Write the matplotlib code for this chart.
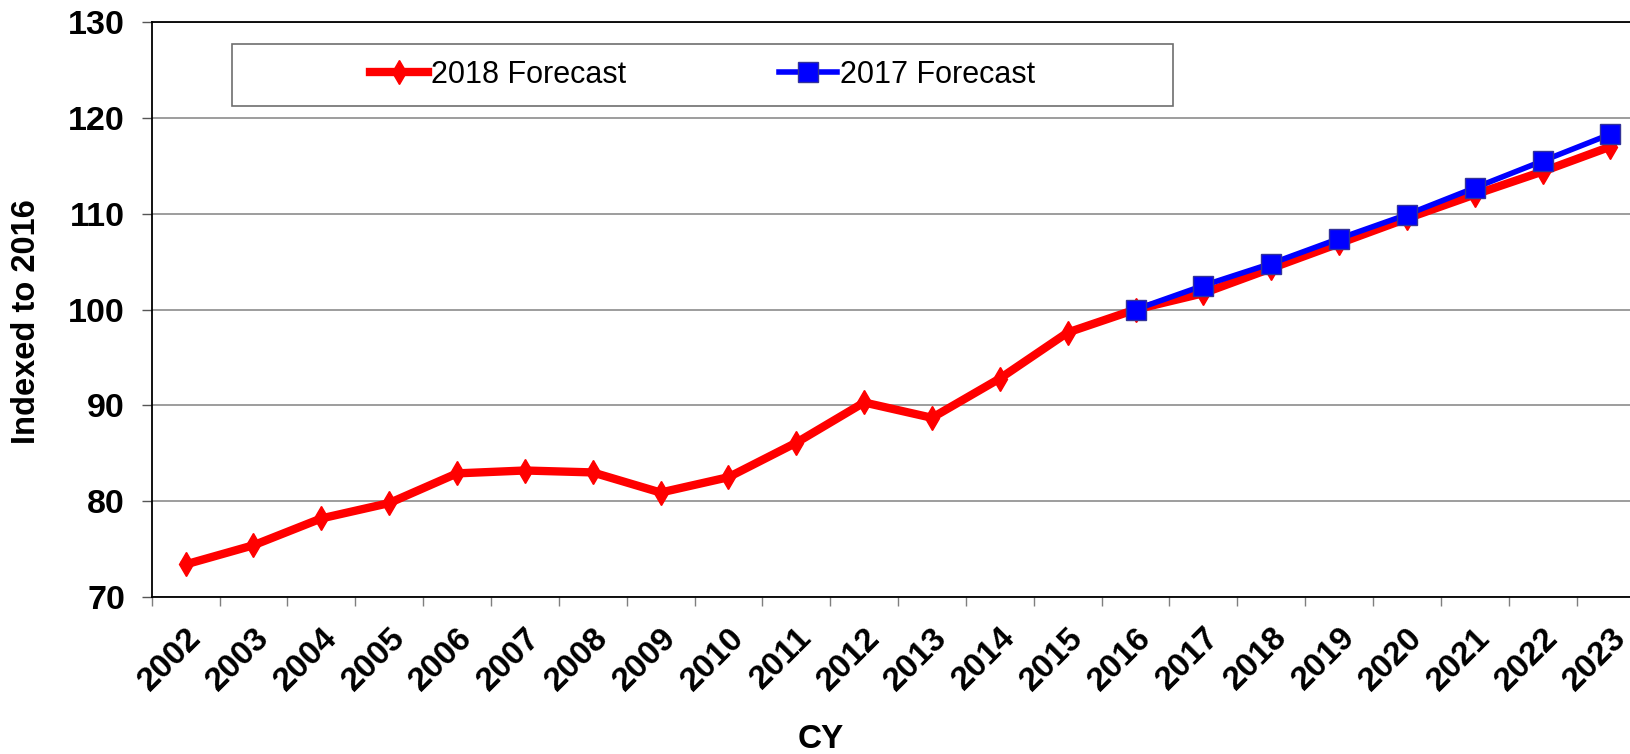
import matplotlib
matplotlib.use("Agg")
import matplotlib.pyplot as plt
from matplotlib.patches import Rectangle
import numpy as np

plt.rcParams['font.family'] = ['Liberation Sans', 'DejaVu Sans']

years = [str(y) for y in range(2002, 2024)]

# indexed values, 2016 = 100
forecast_2018 = [73.4, 75.4, 78.2, 79.8, 82.9, 83.2, 83.0, 80.9, 82.5, 86.1, 90.3,
                 88.7, 92.8, 97.6, 100.0, 101.7, 104.3, 106.9, 109.5, 112.0, 114.4, 117.0]
years_2017 = years[14:]
forecast_2017 = [100.0, 102.5, 104.8, 107.4, 109.9, 112.7, 115.5, 118.3]

W, H = 1631, 754
fig = plt.figure(figsize=(W / 100, H / 100), dpi=100)
ax = fig.add_axes([151.7 / W, 157 / H, 1492.7 / W, 575 / H])

x = np.arange(len(years))
x17 = np.array([years.index(y) for y in years_2017])

ax.plot(x, forecast_2018, color='#ff0000', lw=6, marker='d', ms=12,
        mec='#ff0000', mfc='#ff0000', label='2018 Forecast', zorder=3)
ax.plot(x17, forecast_2017, color='#0000ff', lw=4, marker='s', ms=14,
        mfc='#0000ff', mec='#33339a', mew=1, label='2017 Forecast', zorder=4)

ax.set_xlim(-0.5, len(years) - 0.5)
ax.set_ylim(70, 130)
ax.set_yticks(range(70, 131, 10))
ax.yaxis.grid(True, color='#8c8c8c', lw=1.2)
ax.set_axisbelow(True)

ax.set_xticks(x)
ax.set_xticklabels(years, rotation=45, ha='right', rotation_mode='anchor',
                   fontsize=24, fontweight='bold')
ax.set_xticks(np.arange(len(years) + 1) - 0.5, minor=True)
ax.tick_params(axis='x', which='major', length=0, pad=18)
ax.tick_params(axis='x', which='minor', length=6.5, width=1, color='#7f7f7f')
ax.tick_params(axis='y', length=7.2, width=1, color='#555555', pad=12,
               labelsize=24.5)
for lbl in ax.get_yticklabels():
    lbl.set_fontweight('bold')

for side in ['left', 'bottom', 'top']:
    ax.spines[side].set_color('black')
    ax.spines[side].set_linewidth(1.3)
ax.spines['right'].set_visible(False)

fig.text(27 / W, 1 - 322 / H, 'Indexed to 2016', rotation=90, ha='center',
         va='center', fontsize=23.5, fontweight='bold')
fig.text(821 / W, 1 - 739 / H, 'CY', ha='center', va='center',
         fontsize=24, fontweight='bold')

# legend box
bx0, by0, bx1, by1 = 232, 44, 1173, 106
fig.patches.append(Rectangle((bx0 / W, 1 - by1 / H), (bx1 - bx0) / W, (by1 - by0) / H,
                             transform=fig.transFigure, facecolor='white',
                             edgecolor='#6e6e6e', lw=1.2, zorder=5))
leg = fig.legend(loc='center', bbox_to_anchor=((bx0 + bx1) / 2 / W, 1 - (by0 + by1) / 2 / H),
                 ncol=2, frameon=False, fontsize=22, handlelength=1.9,
                 handletextpad=0.1, columnspacing=5.0)
leg.set_zorder(6)

fig.savefig('out.png', dpi=100)
